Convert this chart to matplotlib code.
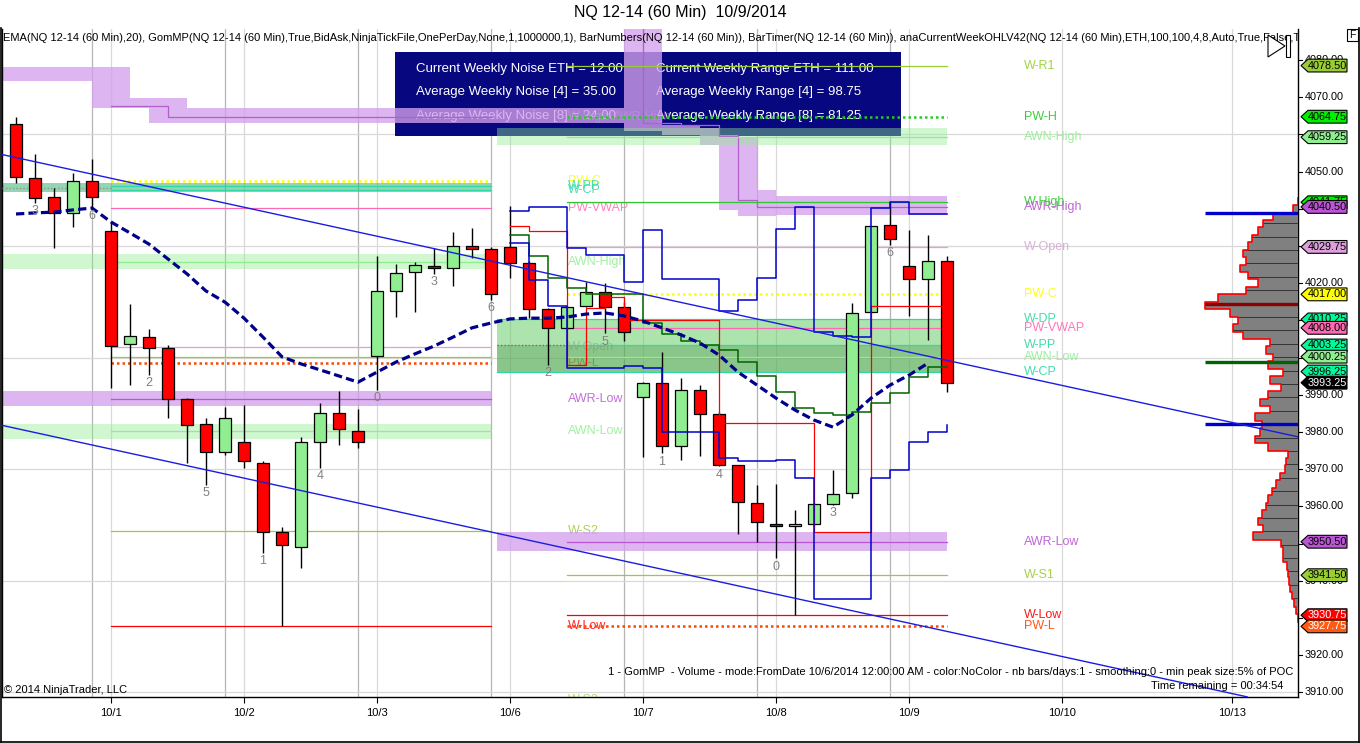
import numpy as np
import matplotlib
matplotlib.use("Agg")
import matplotlib.pyplot as plt
from matplotlib.patches import Polygon, Rectangle
from matplotlib.lines import Line2D

plt.rcParams['font.family'] = ['Liberation Sans', 'DejaVu Sans']

# ---------------- data ----------------
opens = [4062.75, 4048.25, 4043.25, 4039.0, 4047.5, 4034.0, 4003.75, 4005.5, 4002.5, 3989.0,
         3982.25, 3974.5, 3977.25, 3971.75, 3953.0, 3949.0, 3977.25, 3985.0, 3980.25, 4000.5,
         4018.0, 4023.0, 4024.5, 4024.0, 4030.0, 4029.25, 4029.75, 4025.5, 4013.0, 4008.0,
         4013.75, 4017.5, 4013.5, 3989.5, 3993.25, 3976.25, 3991.25, 3984.75, 3971.0, 3961.0,
         3955.25, 3954.75, 3955.25, 3960.75, 3963.5, 4012.25, 4035.75, 4024.5, 4021.25, 4026.0]
highs = [4064.75, 4054.75, 4045.5, 4049.5, 4053.5, 4036.5, 4014.5, 4007.75, 4003.5, 3989.25,
         3983.75, 3986.75, 3987.25, 3972.25, 3954.5, 3978.75, 3987.75, 3991.0, 3986.25, 4027.25,
         4025.25, 4025.75, 4029.5, 4033.75, 4034.75, 4029.75, 4040.75, 4026.0, 4013.25, 4013.75,
         4020.25, 4020.0, 4015.0, 3993.5, 4001.5, 3994.5, 3992.5, 3985.5, 3971.25, 3965.75,
         3966.0, 3959.0, 3961.0, 3969.75, 4014.75, 4035.5, 4041.75, 4034.25, 4033.0, 4027.25]
lows = [4047.0, 4041.5, 4029.5, 4035.0, 4040.25, 3991.75, 3992.5, 3995.25, 3983.75, 3971.75,
        3965.75, 3973.75, 3970.25, 3947.5, 3927.75, 3943.5, 3970.25, 3976.5, 3975.75, 3991.25,
        4011.0, 4012.25, 4022.5, 4019.25, 4026.75, 4015.5, 4021.5, 4010.75, 3998.0, 4007.75,
        4013.5, 4006.5, 4004.5, 3973.25, 3974.25, 3972.5, 3973.5, 3970.75, 3952.5, 3950.5,
        3946.0, 3930.75, 3955.0, 3960.5, 3962.25, 4012.25, 4030.25, 4011.25, 4004.75, 3990.75]
closes = [4048.5, 4043.0, 4039.0, 4047.5, 4043.25, 4003.0, 4005.75, 4002.5, 3989.0, 3982.0,
          3974.5, 3983.75, 3972.25, 3953.0, 3949.5, 3977.25, 3985.0, 3980.75, 3977.25, 4018.0,
          4022.75, 4025.0, 4024.0, 4030.0, 4029.25, 4017.0, 4025.5, 4013.0, 4008.0, 4013.5,
          4017.5, 4013.5, 4006.75, 3993.25, 3976.25, 3991.25, 3984.75, 3971.0, 3961.25, 3955.75,
          3954.75, 3955.25, 3960.75, 3963.25, 4012.0, 4035.5, 4031.75, 4021.25, 4026.0, 3993.25]
ema20 = [4038.6, 4038.9, 4039.1, 4039.7, 4040.2, 4036.45, 4033.5, 4030.5, 4026.5, 4022.5,
         4017.9, 4014.9, 4010.6, 4005.5, 4000.2, 3998.3, 3996.7, 3995.05, 3993.4, 3996.1,
         3998.8, 4001.0, 4003.1, 4005.5, 4008.0, 4009.3, 4010.4, 4010.6, 4010.6, 4010.9,
         4011.7, 4012.0, 4011.2, 4009.8, 4008.0, 4006.1, 4003.9, 4000.7, 3996.1, 3992.6,
         3989.1, 3985.9, 3983.2, 3981.3, 3984.6, 3989.1, 3992.6, 3995.3, 3998.5]

bar_number_bars = [1, 4, 7, 10, 13, 16, 19, 22, 25, 28, 31, 34, 37, 40, 43, 46]
bar_number_text = ['3', '6', '2', '5', '1', '4', '0', '3', '6', '2', '5', '1', '4', '0', '3', '6']

date_tick_bars = [5, 12, 19, 26, 33, 40, 47, 55.05, 64]
date_labels = ['10/1', '10/2', '10/3', '10/6', '10/7', '10/8', '10/9', '10/10', '10/13']
session_end_bars = [4, 11, 18, 25, 32, 39, 46]

# step indicator lines of the current week (value holds from bar k to k+1)
step_bars = list(range(26, 50))
upper_channel = [4039.5, 4040.5, 4040.5, 4029.5, 4027.5, 4027.5, 4020.25, 4034.25, 4021.0, 4021.0,
                 4021.0, 4012.5, 4015.5, 4021.5, 4034.5, 4040.5, 4007.0, 4005.75, 4005.5, 4040.25,
                 4041.75, 4038.5, 4038.5, 4038.5]
lower_channel = [4030.75, 4020.75, 4014.0, 3997.25, 3997.25, 3997.25, 3997.75, 3997.25, 3980.0, 3980.0,
                 3980.0, 3973.0, 3972.25, 3972.25, 3972.5, 3967.5, 3935.0, 3935.0, 3935.0, 3967.5,
                 3969.75, 3977.25, 3980.0, 3982.0]
red_step = [4035.5, 4034.0, 4034.0, 3998.0, 4013.25, 4016.25, 4010.0, 4010.0, 4010.0, 4010.0,
            4010.0, 3982.5, 3982.5, 3982.5, 3982.5, 3982.5, 3953.0, 3953.0, 3953.0, 4014.0,
            4014.0, 4014.0, 4014.0, 4014.0]
green_step = [4033.0, 4027.25, 4021.5, 4018.75, 4017.0, 4017.0, 4017.0, 4009.25, 4006.25, 4004.5,
              4003.5, 4002.0, 3998.75, 3995.0, 3990.75, 3986.5, 3985.0, 3984.5, 3985.5, 3987.75,
              3990.5, 3994.75, 3997.5, 3997.5]

# trend lines (bar, price) anchors
upper_trend = [(-0.84, 4054.7), (67.47, 3978.7)]
lower_trend = [(-0.84, 3981.9), (64.79, 3908.8)]

# AWR-High ribbon (stepped)
awrh_edges = [-0.74, 4, 6, 7, 9, 32, 34, 36, 37, 38, 39, 40, 49]
awrh_top = [4078.0, 4078.0, 4069.75, 4069.75, 4067.0, 4095.0, 4062.5, 4061.75, 4059.75, 4059.0, 4045.0, 4043.5]
awrh_bottom = [4074.25, 4067.0, 4067.0, 4063.0, 4063.0, 4061.0, 4059.75, 4057.25, 4039.75, 4038.0, 4038.0, 4038.25]
awrh_line_prev_edges = [5, 8, 25]
awrh_line_prev = [4067.5, 4064.75]
awrh_line_cur_edges = [29, 33, 35, 37, 38, 39, 49]
awrh_line_cur = [4095.0, 4063.0, 4062.5, 4059.5, 4042.25, 4040.5]

# current week levels
week_names = ['W-R1', 'PW-H', 'AWN-High', 'W-High', 'AWR-High', 'W-Open', 'PW-C', 'W-DP',
              'PW-VWAP', 'W-PP', 'AWN-Low', 'W-CP', 'AWR-Low', 'W-S1', 'W-Low', 'PW-L']
week_prices = [4078.5, 4064.75, 4059.25, 4041.75, 4040.5, 4029.75, 4017.0, 4010.25,
               4008.0, 4003.25, 4000.25, 3996.25, 3950.5, 3941.5, 3930.75, 3927.75]
last_price = 3993.25

# previous week levels
prev_names = ['PW-C', 'W-PP', 'W-CP', 'PW-VWAP', 'AWN-High', 'W-Open', 'W-S1', 'PW-L',
              'AWR-Low', 'AWN-Low', 'W-S2', 'W-Low']
prev_prices = [4047.5, 4046.0, 4045.0, 4040.25, 4025.75, 4002.75, 4000.25, 3998.5,
               3989.0, 3980.25, 3953.5, 3927.75]

# zones: (name, low, high)
prev_zones = [('W-PP/W-CP', 4044.5, 4047.0), ('AWN-High', 4023.75, 4027.75),
              ('AWR-Low', 3987.0, 3991.0), ('AWN-Low', 3978.0, 3982.25)]
week_zones = [('AWN-High', 4057.25, 4061.75), ('Noise', 3996.25, 4010.25),
              ('Noise-core', 3996.25, 4003.25), ('AWR-Low', 3948.0, 3953.0)]

# volume profile (GomMP), price levels and relative volume
profile_prices = list(range(4042, 3928, -2))
profile_volume = [0, 5, 25, 35, 40, 46, 50, 55, 52, 58, 50, 40, 52, 80, 93, 68, 60, 65, 55, 28,
                  32, 25, 30, 15, 28, 17, 30, 38, 28, 43, 36, 38, 43, 30, 10, 12, 13, 18, 22, 26,
                  30, 32, 36, 40, 35, 45, 17, 15, 15, 11, 10, 9, 8, 6, 4, 2, 0]
profile_levels = [('VAH', 4038.75), ('POC', 4014.5), ('VWAP', 3998.75), ('VAL', 3982.25)]

box_left = ['Current Weekly Noise ETH = 12.00', 'Average Weekly Noise [4] = 35.00',
            'Average Weekly Noise [8] = 24.00']
box_right = ['Current Weekly Range ETH = 111.00', 'Average Weekly Range [4] = 98.75',
             'Average Weekly Range [8] = 81.25']

# ---------------- styles ----------------
C_TURQ = '#2FD8A4'
level_color = {'W-R1': '#9ACD32', 'PW-H': '#22CC22', 'AWN-High': '#90EE90', 'W-High': '#2EC82E',
               'AWR-High': '#BA55D3', 'W-Open': '#D6A6D6', 'PW-C': '#FFFF00', 'W-DP': C_TURQ,
               'PW-VWAP': '#FF69B4', 'W-PP': C_TURQ, 'AWN-Low': '#90EE90', 'W-CP': C_TURQ,
               'AWR-Low': '#BA55D3', 'W-S1': '#9ACD32', 'W-S2': '#9ACD32', 'W-Low': '#FF0000',
               'PW-L': '#FF4500'}
dotted = {'PW-H', 'PW-C', 'PW-L'}
tag_color = {'W-R1': '#9ACD32', 'PW-H': '#00EE00', 'AWN-High': '#90EE90', 'W-High': '#00EE00',
             'AWR-High': '#BA55D3', 'W-Open': '#DDA0DD', 'PW-C': '#FFFF00', 'W-DP': '#00FA9A',
             'PW-VWAP': '#FF69B4', 'W-PP': '#00FA9A', 'AWN-Low': '#90EE90', 'W-CP': '#00FA9A',
             'AWR-Low': '#BA55D3', 'W-S1': '#9ACD32', 'W-Low': '#FF0000', 'PW-L': '#FF5A14'}
zone_style = {'W-PP/W-CP': ('#3CB371', 0.55), 'AWN-High': ('#90EE90', 0.42),
              'AWR-Low': ('#D4A0EC', 0.78), 'AWN-Low': ('#90EE90', 0.42),
              'Noise': ('#5CCB5C', 0.5), 'Noise-core': ('#4A8F4A', 0.35)}
profile_line_color = {'VAH': '#0000CD', 'POC': '#8B0000', 'VWAP': '#006400', 'VAL': '#0000CD'}

W, H, DPI = 1360, 743, 100
LPX, RPX, TPX, BPX = 2, 1298, 29, 697
ymin, ymax = 3908.76, 4088.33
xmin, xmax = -0.737, 67.47
prev_start, prev_end = 5, 25
cur_zone_start, cur_start, cur_end = 25.3, 29, 49

fig = plt.figure(figsize=(W / DPI, H / DPI), dpi=DPI)
fig.patch.set_facecolor('white')
ax = fig.add_axes([LPX / W, 1 - BPX / H, (RPX - LPX) / W, (BPX - TPX) / H])
ax.set_xlim(xmin, xmax)
ax.set_ylim(ymin, ymax)
ax.set_facecolor('white')
for s in ['left', 'bottom', 'right']:
    ax.spines[s].set_color('black')
    ax.spines[s].set_linewidth(1.0)
ax.spines['top'].set_visible(False)
ax.set_yticks([])
ax.set_xticks(date_tick_bars)
ax.set_xticklabels(date_labels, fontsize=8)
ax.tick_params(axis='x', direction='out', length=4, width=0.8, pad=4)

# grid
for xb in date_tick_bars:
    ax.axvline(xb, color='#D9D9D9', lw=0.9, zorder=0.5)
for xb in session_end_bars:
    ax.axvline(xb, color='#B5B5B5', lw=0.9, zorder=0.5)
for yv in range(3910, 4090, 30):
    ax.axhline(yv, color='#D9D9D9', lw=0.9, zorder=0.5)

# info box
bx0, by0, bx1, by1 = 395, 52, 901, 136
def axfx(px):
    return (px - LPX) / (RPX - LPX)
def axfy(py):
    return (BPX - py) / (BPX - TPX)
ax.add_patch(Rectangle((axfx(bx0), axfy(by1)), axfx(bx1) - axfx(bx0), axfy(by0) - axfy(by1),
                       transform=ax.transAxes, facecolor='#07077F', edgecolor='none', zorder=1))
for i, (tl, tr) in enumerate(zip(box_left, box_right)):
    yy = axfy(69 + i * 23.5)
    ax.text(axfx(416), yy, tl, transform=ax.transAxes, color='white', fontsize=9.5,
            va='center', ha='left', zorder=1.2)
    ax.text(axfx(656), yy, tr, transform=ax.transAxes, color='white', fontsize=9.5,
            va='center', ha='left', zorder=1.2)

# AWR-High ribbon
ax.fill_between(awrh_edges, awrh_bottom + [awrh_bottom[-1]], awrh_top + [awrh_top[-1]],
                step='post', color='#D4A0EC', alpha=0.78, lw=0, zorder=2)
ax.step(awrh_line_prev_edges, awrh_line_prev + [awrh_line_prev[-1]], where='post',
        color='#B060C8', lw=0.9, zorder=3)
ax.step(awrh_line_cur_edges, awrh_line_cur + [awrh_line_cur[-1]], where='post',
        color='#B060C8', lw=0.9, zorder=3)

# zones
for name, lo, hi in prev_zones:
    c, a = zone_style[name]
    ax.fill_between([xmin, prev_end], lo, hi, color=c, alpha=a, lw=0, zorder=2)
for name, lo, hi in week_zones:
    c, a = zone_style[name]
    ax.fill_between([cur_zone_start, cur_end], lo, hi, color=c, alpha=a, lw=0, zorder=2)

# level lines
def level_line(x0, x1, price, name):
    c = level_color.get(name, '#888888')
    if name in dotted:
        ax.plot([x0, x1], [price, price], color=c, lw=1.8, ls=(0, (1, 1.2)), zorder=3)
    else:
        ax.plot([x0, x1], [price, price], color=c, lw=0.9, zorder=3)

for name, p in zip(prev_names, prev_prices):
    level_line(prev_start, prev_end, p, name)
ax.plot([xmin, prev_start], [4045.5, 4045.5], color='#909090', lw=1.0, ls=(0, (1, 1.5)), zorder=3)
for name, p in zip(week_names, week_prices):
    if name == 'AWR-High':
        continue
    x0 = cur_zone_start if name in ('W-DP', 'W-CP') else cur_start
    level_line(x0, cur_end, p, name)
ax.plot([cur_zone_start, cur_start], [4003.25, 4003.25], color='#707070', lw=1.0,
        ls=(0, (1, 1.5)), zorder=3)

# labels of previous week levels (drawn beneath zones -> faded)
for name, p in zip(prev_names, prev_prices):
    if name == 'W-S1':
        continue
    ax.text(29.05, p, name, color=level_color[name], fontsize=9, va='center', ha='left',
            alpha=0.85, zorder=1.9, clip_on=True)
ax.text(29.05, 4064.75, 'W-High', color=level_color['W-High'], fontsize=9, va='center',
        ha='left', alpha=0.6, zorder=1.9)
ax.text(31.4, 4064.75, 'AWR-High', color=level_color['AWR-High'], fontsize=9, va='center',
        ha='left', alpha=0.6, zorder=1.9)
ax.text(29.05, 3907.9, 'W-S2', color=level_color['W-S2'], fontsize=9, va='center',
        ha='left', alpha=0.7, zorder=1.9, clip_on=True)

# labels of current week levels
for name, p in zip(week_names, week_prices):
    ax.text(53.05, p, name, color=level_color[name], fontsize=9, va='center', ha='left',
            alpha=0.9, zorder=3)

# volume profile
pscale = 1 / 19.0
ys, xs = [], []
for p, v in zip(profile_prices, profile_volume):
    xl = xmax - v * pscale
    ys += [p + 1, p - 1]
    xs += [xl, xl]
ax.fill_betweenx(ys, xs, xmax, color='#808080', lw=0, zorder=3.5)
ax.plot(xs, ys, color='#FF0000', lw=1.2, zorder=3.6)
for k in range(-7, 23):
    lv = 4014.5 - k * 3.6
    if lv > 4038 or lv < 3931:
        continue
    idx = int(np.argmin([abs(pp - lv) for pp in profile_prices]))
    ax.plot([xmax - profile_volume[idx] * pscale, xmax], [lv, lv], color='#333333',
            lw=0.7, zorder=3.55)
for name, p in profile_levels:
    ax.plot([62.58, xmax], [p, p], color=profile_line_color[name], lw=2.4, zorder=4,
            solid_capstyle='butt')

# step lines
ax.step(step_bars, upper_channel, where='post', color='#0000CD', lw=1.1, zorder=7.5)
ax.step(step_bars, lower_channel, where='post', color='#0000CD', lw=1.1, zorder=7.5)
ax.step(step_bars, red_step, where='post', color='#FF0000', lw=0.9, zorder=7.4)
ax.step(step_bars, green_step, where='post', color='#006400', lw=1.1, zorder=7.4)

# candles
bars = np.arange(len(opens))
o = np.array(opens); c = np.array(closes); hi = np.array(highs); lo = np.array(lows)
ax.vlines(bars, lo, hi, color='black', lw=1.0, zorder=6)
up = c >= o
body_h = np.maximum(np.abs(c - o), 0.45)
body_b = np.minimum(o, c)
ax.bar(bars, body_h, bottom=body_b, width=0.64,
       color=np.where(up, '#90EE90', '#FF0000'), edgecolor='black', lw=0.9, zorder=7)

# EMA
ax.plot(np.arange(len(ema20)), ema20, color='#00008B', lw=2.3, ls=(0, (2.6, 1.3)), zorder=8)

# bar numbers
for b, t in zip(bar_number_bars, bar_number_text):
    ax.text(b, lows[b] - 0.6, t, color='#808080', fontsize=9, ha='center', va='top', zorder=8)

# trend lines
for tl in (upper_trend, lower_trend):
    ax.plot([tl[0][0], tl[1][0]], [tl[0][1], tl[1][1]], color='#1C1CE0', lw=1.0, zorder=9)

# texts inside plot
ax.text(axfx(3), axfy(38), 'EMA(NQ 12-14 (60 Min),20), GomMP(NQ 12-14 (60 Min),True,BidAsk,'
        'NinjaTickFile,OnePerDay,None,1,1000000,1), BarNumbers(NQ 12-14 (60 Min)), '
        'BarTimer(NQ 12-14 (60 Min)), anaCurrentWeekOHLV42(NQ 12-14 (60 Min),ETH,100,100,4,8,'
        'Auto,True,False,True,True', transform=ax.transAxes, fontsize=8, va='center',
        ha='left', clip_on=True, zorder=10)
ax.text(axfx(4), axfy(690), '\u00a9 2014 NinjaTrader, LLC', transform=ax.transAxes,
        fontsize=8, va='center', ha='left', zorder=10)
ax.text(axfx(1293), axfy(672), '1 - GomMP  - Volume - mode:FromDate 10/6/2014 12:00:00 AM - '
        'color:NoColor - nb bars/days:1 - smoothing:0 - min peak size:5% of POC',
        transform=ax.transAxes, fontsize=8, va='center', ha='right', zorder=10)
ax.text(axfx(1283), axfy(686), 'Time remaining = 00:34:54', transform=ax.transAxes,
        fontsize=8, va='center', ha='right', zorder=10)

# right price scale with tags
tax = fig.add_axes([RPX / W, 1 - BPX / H, (W - RPX) / W, (BPX - TPX) / H])
tax.set_xlim(0, W - RPX)
tax.set_ylim(ymin, ymax)
tax.axis('off')
tag_prices = week_prices + [last_price]
for v in range(3910, 4081, 10):
    tax.plot([0, 4], [v, v], color='black', lw=0.8, zorder=1)
    if min(abs(v - tp) for tp in tag_prices) < 1.2:
        continue  # fully hidden behind a price tag
    tax.text(7, v, f'{v:.2f}', fontsize=7.8, va='center', ha='left', zorder=1.5)
hh = 1.72
tags = sorted(list(zip(week_prices, week_names)) + [(last_price, 'LAST')], reverse=True)
for k, (p, name) in enumerate(tags):
    fc = '#000000' if name == 'LAST' else tag_color[name]
    tc = 'white' if name in ('LAST', 'W-Low', 'PW-L') else 'black'
    tax.add_patch(Polygon([(3, p), (10, p + hh), (49, p + hh), (49, p - hh), (10, p - hh)],
                          closed=True, facecolor=fc, edgecolor='black', lw=0.8, zorder=3 + 0.01 * k))
    tax.text(29.5, p, f'{p:.2f}', fontsize=7.8, va='center', ha='center', color=tc,
             zorder=3.005 + 0.01 * k)

# title and frame decorations
fig.text(0.5, 1 - 13 / H, 'NQ 12-14 (60 Min)  10/9/2014', ha='center', va='center', fontsize=11.5)
def fx(px):
    return px / W
def fy(py):
    return 1 - py / H
fig.add_artist(Line2D([fx(0.5), fx(0.5)], [fy(28), fy(742)], color='black', lw=1.2))
fig.add_artist(Line2D([fx(0.5), fx(1358.5)], [fy(742), fy(742)], color='black', lw=1.2))
fig.add_artist(Line2D([fx(1358.5), fx(1358.5)], [fy(28), fy(742)], color='black', lw=1.2))
fig.add_artist(Polygon([(fx(1268), fy(35)), (fx(1268), fy(57)), (fx(1285), fy(46))], closed=True,
                       facecolor='white', edgecolor='black', lw=0.8, transform=fig.transFigure))
fig.add_artist(Rectangle((fx(1286), fy(57)), fx(4), 22 / H, facecolor='white', edgecolor='black',
                         lw=0.8, transform=fig.transFigure))
fig.add_artist(Rectangle((fx(1347), fy(41)), fx(11), 12 / H, facecolor='white', edgecolor='black',
                         lw=0.8, transform=fig.transFigure))
fig.text(fx(1352.5), fy(35), 'F', fontsize=7.5, ha='center', va='center')

fig.savefig('out.png', dpi=DPI)
